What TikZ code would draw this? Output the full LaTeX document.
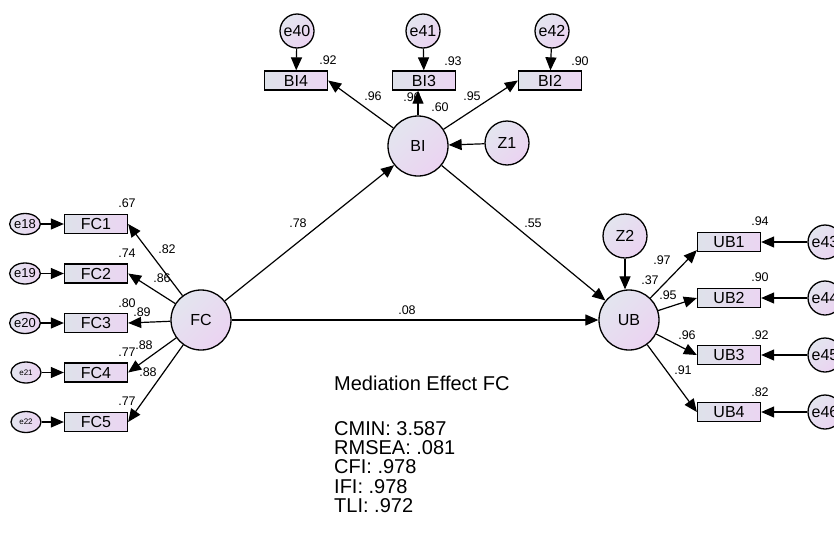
\documentclass[tikz,border=0pt]{standalone}
\usepackage{fontspec}
\setmainfont{Liberation Sans}
\usepackage{tikz}
\usepackage{xcolor}
\usetikzlibrary{arrows.meta,shapes.geometric}
\definecolor{bubA}{HTML}{E3E5EF}
\definecolor{bubB}{HTML}{EBD3F1}
\definecolor{boxA}{HTML}{DEE2EA}
\definecolor{boxB}{HTML}{EBD5F2}

\begin{document}
\begin{tikzpicture}[x=1pt,y=-1pt,
    latent/.style={circle, draw, line width=1.3pt, minimum size=60pt, inner sep=0pt,
        left color=bubA, right color=bubB, shading angle=45,
        font=\fontsize{16}{18}\selectfont},
    disturb/.style={latent, minimum size=44pt},
    errc/.style={latent, minimum size=34pt},
    erre/.style={ellipse, draw, line width=1.3pt, minimum width=30pt, minimum height=21pt,
        inner sep=0pt, left color=bubA, right color=bubB,
        font=\fontsize{13}{14}\selectfont},
    item/.style={rectangle, draw, line width=1.3pt, minimum width=63pt, minimum height=19pt,
        inner sep=0pt, left color=boxA, right color=boxB,
        font=\fontsize{16}{17}\selectfont},
    coef/.style={inner sep=0pt, font=\fontsize{12.5}{13}\selectfont},
    link/.style={line width=1.2pt, -{Triangle[length=13pt,width=11pt]}}
]
    % Canvas
    \useasboundingbox (0,0) rectangle (834,536);
    \clip (0,0) rectangle (834,536);
    \fill[white] (0,0) rectangle (834,536);

    % Latent variables and disturbances
    \node[latent] (FC) at (201,320) {FC};
    \node[latent] (BI) at (418,146) {BI};
    \node[latent] (UB) at (629,320) {UB};
    \node[disturb] (Z1) at (507,143) {Z1};
    \node[disturb] (Z2) at (625,236) {Z2};

    % BI indicators
    \node[item] (BI4) at (296,80.5) {BI4};
    \node[item] (BI3) at (424,80.5) {BI3};
    \node[item] (BI2) at (550,80.5) {BI2};
    \node[errc] (e40) at (297,31) {e40};
    \node[errc] (e41) at (423,31) {e41};
    \node[errc] (e42) at (552,31) {e42};

    % FC indicators
    \node[item] (FC1) at (96,224) {FC1};
    \node[item] (FC2) at (96,273.5) {FC2};
    \node[item] (FC3) at (96,323) {FC3};
    \node[item] (FC4) at (96,372.5) {FC4};
    \node[item] (FC5) at (96,422) {FC5};
    \node[erre] (e18) at (25,224) {e18};
    \node[erre] (e19) at (25,273.5) {e19};
    \node[erre] (e20) at (25,323) {e20};
    \node[erre, font=\fontsize{8}{9}\selectfont] (e21) at (26,372.5) {e21};
    \node[erre, font=\fontsize{8}{9}\selectfont] (e22) at (26,422) {e22};

    % UB indicators
    \node[item] (UB1) at (729,242) {UB1};
    \node[item] (UB2) at (729,298) {UB2};
    \node[item] (UB3) at (729,355) {UB3};
    \node[item] (UB4) at (729,412) {UB4};
    \node[errc] (e43) at (825,242) {e43};
    \node[errc] (e44) at (825,298) {e44};
    \node[errc] (e45) at (825,355) {e45};
    \node[errc] (e46) at (825,412) {e46};

    % Error terms
    \draw[link] (e40) -- (BI4);
    \draw[link] (e41) -- (BI3);
    \draw[link] (e42) -- (BI2);
    \draw[link] (e18) -- (FC1);
    \draw[link] (e19) -- (FC2);
    \draw[link] (e20) -- (FC3);
    \draw[link] (e21) -- (FC4);
    \draw[link] (e22) -- (FC5);
    \draw[link] (e43) -- (UB1);
    \draw[link] (e44) -- (UB2);
    \draw[link] (e45) -- (UB3);
    \draw[link] (e46) -- (UB4);
    \draw[link] (Z1) -- (BI);
    \draw[link] (Z2) -- (Z2 |- UB.north);

    % Loadings
    \draw[link] (BI) -- (BI4.east);
    \draw[link] (BI.north) -- (BI.north |- BI3.south);
    \draw[link] (BI) -- (BI2.west);
    \draw[link] (FC) -- (FC1.east);
    \draw[link] (FC) -- (FC2.east);
    \draw[link] (FC) -- (FC3.east);
    \draw[link] (FC) -- (FC4.east);
    \draw[link] (FC) -- (FC5.east);
    \draw[link] (UB) -- ([yshift=2pt]UB1.south west);
    \draw[link] (UB) -- (UB2.west);
    \draw[link] (UB) -- (UB3.west);
    \draw[link] (UB) -- (UB4.west);

    % Structural paths
    \draw[link] (FC) -- (BI);
    \draw[link] (BI) -- (UB);
    \draw[link] (FC) -- (UB);

    % Estimates
    \node[coef] (rBI4) at (328,60) {.92};
    \node[coef] (rBI3) at (453,61) {.93};
    \node[coef] (rBI2) at (580,61) {.90};
    \node[coef] (lBI4) at (373,96) {.96};
    \node[coef] (lBI3) at (412,97) {.96};
    \node[coef] (rBI) at (440,107) {.60};
    \node[coef] (lBI2) at (472,96) {.95};
    \node[coef] (rFC1) at (127,203) {.67};
    \node[coef] (lFC1) at (167,249) {.82};
    \node[coef] (rFC2) at (127,253) {.74};
    \node[coef] (lFC2) at (162,278) {.86};
    \node[coef] (rFC3) at (127,303) {.80};
    \node[coef] (lFC3) at (142,312) {.89};
    \node[coef] (rFC4) at (127,352) {.77};
    \node[coef] (lFC4) at (144,345) {.88};
    \node[coef] (lFC5) at (148,372) {.88};
    \node[coef] (rFC5) at (127,401) {.77};
    \node[coef] (rUB1) at (760,221) {.94};
    \node[coef] (lUB1) at (662,260) {.97};
    \node[coef] (rUB) at (650,280) {.37};
    \node[coef] (rUB2) at (760,277) {.90};
    \node[coef] (lUB2) at (668,295) {.95};
    \node[coef] (rUB3) at (760,335) {.92};
    \node[coef] (lUB3) at (687,335) {.96};
    \node[coef] (lUB4) at (683,370) {.91};
    \node[coef] (rUB4) at (760,392) {.82};
    \node[coef] (pFCBI) at (298,223) {.78};
    \node[coef] (pBIUB) at (533,223) {.55};
    \node[coef] (pFCUB) at (407,310) {.08};

    % Fit summary
    \node[anchor=west, inner sep=0pt, font=\fontsize{20}{22}\selectfont] (title) at (334,383) {Mediation Effect FC};
    \node[anchor=north west, inner sep=0pt, align=left, font=\fontsize{20}{19.3}\selectfont] (fit) at (334,421)
        {CMIN: 3.587\\RMSEA: .081\\CFI: .978\\IFI: .978\\TLI: .972};
\end{tikzpicture}
\end{document}
